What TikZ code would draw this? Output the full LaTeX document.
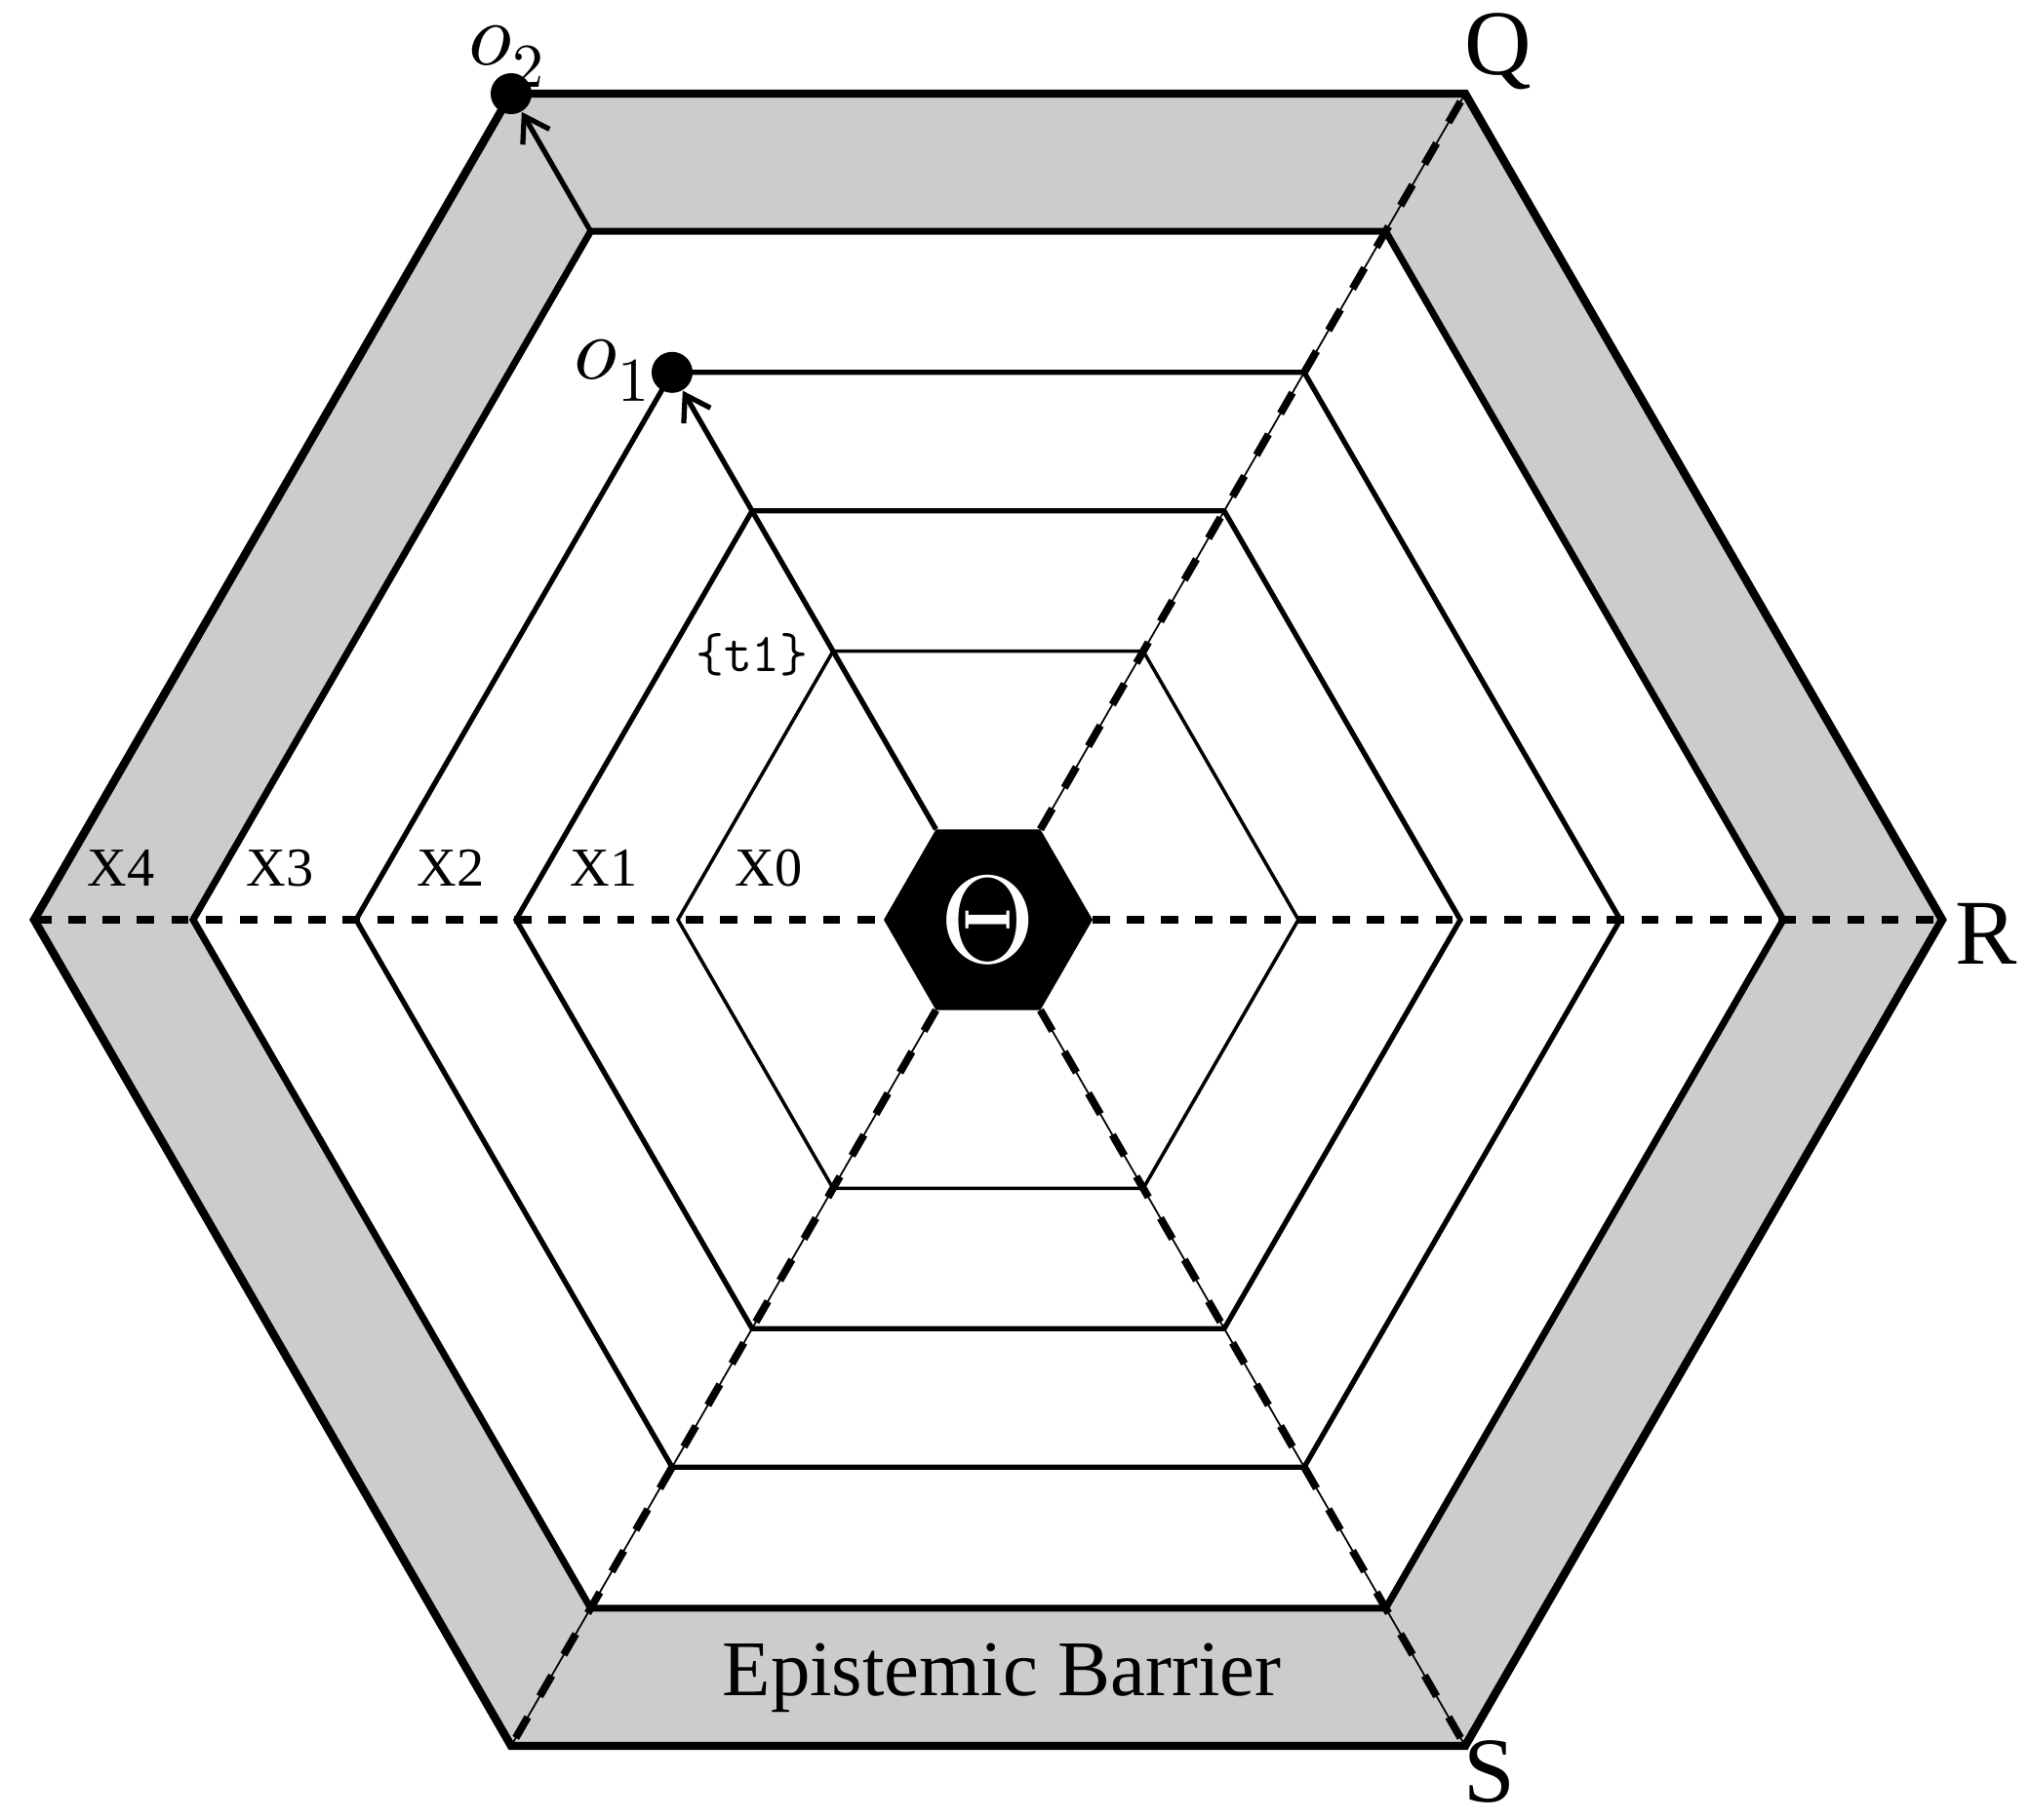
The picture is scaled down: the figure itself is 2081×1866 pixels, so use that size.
\documentclass[tikz,border=0pt]{standalone}
\usepackage{fontspec}
\setmainfont{Liberation Serif}
\usepackage{unicode-math}
\setmathfont{Latin Modern Math}
\usetikzlibrary{arrows.meta}
\definecolor{band}{gray}{0.8}
\tikzset{
  ring/.style={line width=#1},
  axisdash/.style={line width=2.2pt, dash pattern=on 5pt off 5pt},
  spoke/.style={line width=0.5pt},
  spokedash/.style={line width=2.2pt, dash pattern=on 7pt off 7pt},
  bandlabel/.style={font=\fontsize{16}{18}\selectfont},
  corner/.style={font=\fontsize{27}{30}\selectfont},
  obs/.style={circle,fill,inner sep=0pt,minimum size=0.42cm}
}
\begin{document}
\begin{tikzpicture}[x=0.01cm,y=0.01cm]
\useasboundingbox (-1013,-923) rectangle (1068,943);
% grey barrier band
\fill[band,even odd rule] (0:978)--(60:978)--(120:978)--(180:978)--(240:978)--(300:978)--cycle
  (0:815)--(60:815)--(120:815)--(180:815)--(240:815)--(300:815)--cycle;
% rings
\foreach \r/\w in {978/2.4pt, 815/2pt, 648/1.5pt, 484/1.5pt, 318/1pt}
  \draw[ring=\w] (0:\r)--(60:\r)--(120:\r)--(180:\r)--(240:\r)--(300:\r)--cycle;
% axes
\draw[axisdash] (180:978)--(180:107) (0:107)--(0:978);
\foreach \a in {60, 240, 300} {
  \draw[spoke] (\a:107)--(\a:978);
  \draw[spokedash] (\a:107)--(\a:978);
}
% centre
\fill (0:107)--(60:107)--(120:107)--(180:107)--(240:107)--(300:107)--cycle;
\node[text=white,font=\fontsize{36}{40}\selectfont] (theta) at (0,0) {$\Theta$};
% observers
\coordinate (c0) at (120:107);
\coordinate (c3) at (120:815);
\node[obs] (o1) at (120:648) {};
\node[obs] (o2) at (120:978) {};
\draw[line width=1.5pt,-{Straight Barb[length=7pt,width=9pt]}] (c0)--(o1);
\draw[line width=1.5pt,-{Straight Barb[length=7pt,width=9pt]}] (c3)--(o2);
\node[font=\fontsize{26}{28}\selectfont] (o1lab) at (-385,563) {$o_1$};
\node[font=\fontsize{26}{28}\selectfont] (o2lab) at (-493,885) {$o_2$};
\node[font=\ttfamily\fontsize{16}{18}\selectfont] (t1) at (-242,272) {\{t1\}};
% band labels
\node[bandlabel] (x4) at (-889,53) {X4};
\node[bandlabel] (x3) at (-726,53) {X3};
\node[bandlabel] (x2) at (-551,53) {X2};
\node[bandlabel] (x1) at (-394,53) {X1};
\node[bandlabel] (x0) at (-225,53) {X0};
% corners
\node[corner] (q) at (523,890) {Q};
\node[corner] (r) at (1023,-14) {R};
\node[corner] (s) at (514,-874) {S};
\node[font=\fontsize{23}{26}\selectfont] (barrier) at (14,-777) {Epistemic Barrier};
\end{tikzpicture}
\end{document}
